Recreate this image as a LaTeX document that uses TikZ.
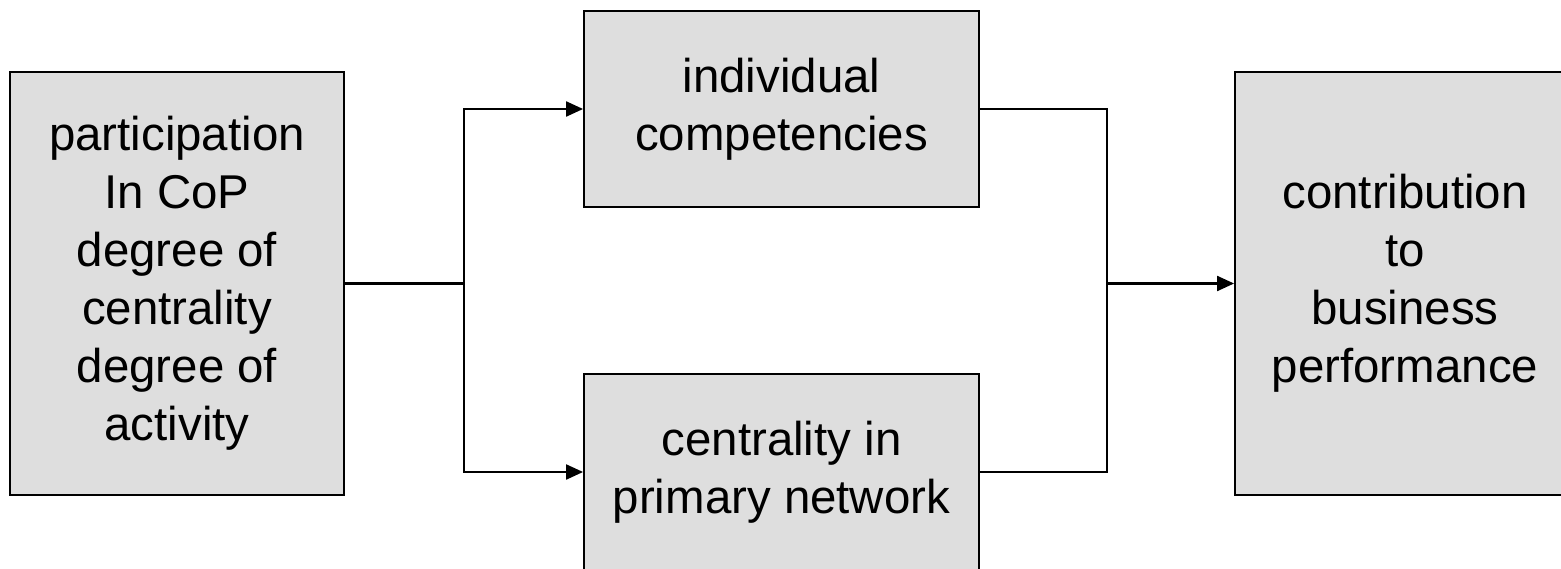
\documentclass[tikz,border=0pt]{standalone}
\usepackage{fontspec}
\setmainfont{Liberation Sans}
\usepackage{tikz}
\usetikzlibrary{positioning,arrows.meta}

\begin{document}
\begin{tikzpicture}[x=0.02cm,y=-0.02cm]
		\tikzstyle{box}=[draw=black, fill=black!13, line width=1.1pt, align=center, inner sep=0pt,
			font=\fontsize{27}{33}\selectfont]
		\tikzstyle{link}=[black, line width=1.2pt]
		\tikzstyle{arr}=[link, -{Triangle[length=0.34cm,width=0.3cm]}]
		\clip (0,0) rectangle (1561,568);
		\node [box, minimum width=6.68cm, minimum height=8.46cm] (part) at (177,283.5)
			{participation\\In CoP\\degree of\\centrality\\degree of\\activity};
		\node [box, minimum width=7.9cm, minimum height=3.92cm] (comp) at (781.5,109)
			{individual\\competencies};
		\node [box, minimum width=7.9cm, minimum height=3.92cm] (cent) at (781.5,472)
			{centrality in\\primary network};
		\node [box, minimum width=6.8cm, minimum height=8.46cm] (contrib) at (1405,283.5)
			{contribution\\to\\business\\performance};
		\coordinate (split) at (464,283.5);
		\coordinate (join) at (1107,283.5);
		\draw [link] (part.east) -- (split);
		\draw [arr] (split) |- (comp.west);
		\draw [arr] (split) |- (cent.west);
		\draw [link] (comp.east) -| (join);
		\draw [link] (cent.east) -| (join);
		\draw [arr] (join) -- (contrib.west);
\end{tikzpicture}
\end{document}
